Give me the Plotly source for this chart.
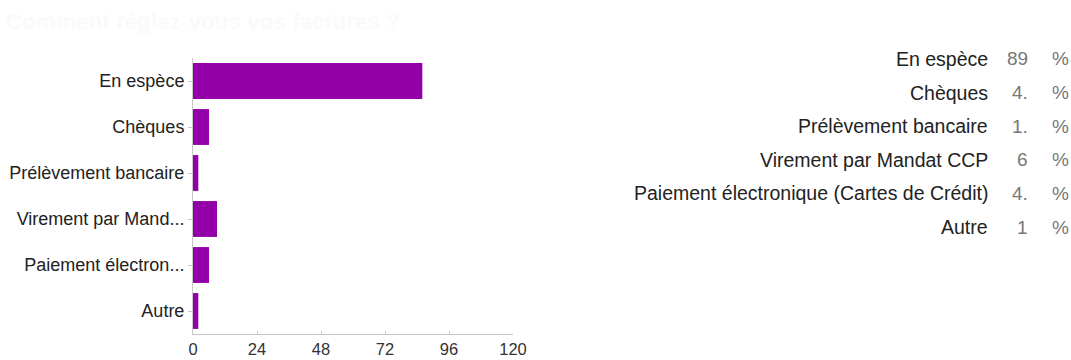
import plotly.graph_objects as go

# Survey answers: how bills are paid
categories = [
    "En espèce",
    "Chèques",
    "Prélèvement bancaire",
    "Virement par Mandat CCP",
    "Paiement électronique (Cartes de Crédit)",
    "Autre",
]
axis_labels = [
    "En espèce",
    "Chèques",
    "Prélèvement bancaire",
    "Virement par Mand...",
    "Paiement électron...",
    "Autre",
]
counts = [86, 6, 2, 9, 6, 2]
percent_labels = ["89", "4.", "1.", "6", "4.", "1"]
x_ticks = [0, 24, 48, 72, 96, 120]

W, H = 1071, 360
BAR_COLOR = "#9400a8"
FONT = "Liberation Sans, Arial, sans-serif"


def px_x(p):
    return p / W


def px_y(p):
    return 1 - p / H


fig = go.Figure(
    go.Bar(
        x=counts,
        y=categories,
        orientation="h",
        marker=dict(color=BAR_COLOR, line=dict(width=0)),
        hoverinfo="x+y",
    )
)

fig.update_layout(
    width=W,
    height=H,
    margin=dict(l=0, r=0, t=0, b=0),
    paper_bgcolor="white",
    plot_bgcolor="white",
    bargap=0.22,
    showlegend=False,
    font=dict(family=FONT, size=15, color="#222222"),
    title=dict(
        text="<b>Comment réglez-vous vos factures ?</b>",
        x=px_x(6),
        xanchor="left",
        y=px_y(21),
        yanchor="middle",
        font=dict(size=22.5, color="#fafafa", family=FONT),
    ),
    xaxis=dict(
        domain=[px_x(193), px_x(513)],
        range=[0, 120],
        tickvals=x_ticks,
        ticktext=[str(v) for v in x_ticks],
        showgrid=False,
        zeroline=False,
        showline=True,
        linecolor="#c8c8c8",
        linewidth=1,
        ticks="inside",
        ticklen=3,
        tickcolor="#c8c8c8",
        tickfont=dict(size=16.5, color="#333333"),
        automargin=False,
        fixedrange=True,
    ),
    yaxis=dict(
        domain=[px_y(334), px_y(58)],
        autorange="reversed",
        tickmode="array",
        tickvals=categories,
        ticktext=axis_labels,
        showgrid=False,
        zeroline=False,
        showline=True,
        linecolor="#c8c8c8",
        linewidth=1,
        ticks="outside",
        ticklen=4,
        tickcolor="#c8c8c8",
        tickfont=dict(size=18, color="#222222"),
        automargin=False,
        fixedrange=True,
    ),
)

# Right-hand summary table: answer, share, percent sign
row_y0, row_step = 59, 33.6
for i, (name, pct) in enumerate(zip(categories, percent_labels)):
    yy = px_y(row_y0 + i * row_step)
    fig.add_annotation(
        x=px_x(990), y=yy, xref="paper", yref="paper",
        text=name, showarrow=False, xanchor="right", yanchor="middle",
        font=dict(size=19.5, color="#222222", family=FONT),
    )
    fig.add_annotation(
        x=px_x(1030), y=yy, xref="paper", yref="paper",
        text=pct, showarrow=False, xanchor="right", yanchor="middle",
        font=dict(size=19, color="#777777", family=FONT),
    )
    fig.add_annotation(
        x=px_x(1060), y=yy, xref="paper", yref="paper",
        text="%", showarrow=False, xanchor="center", yanchor="middle",
        font=dict(size=19, color="#777777", family=FONT),
    )

fig.write_html("out.html")
